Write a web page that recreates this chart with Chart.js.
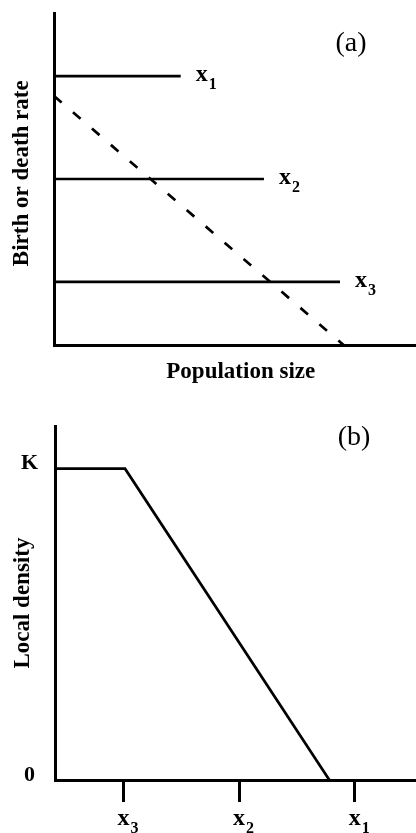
<!DOCTYPE html>
<html>
<head>
<meta charset="utf-8">
<script src="https://cdn.jsdelivr.net/npm/chart.js"></script>
<style>
  html, body { margin: 0; padding: 0; background: #fff; }
  .panel { position: relative; width: 416px; }
  #panelA { height: 396px; }
  #panelB { height: 437px; }
</style>
</head>
<body>
<div class="panel" id="panelA"><canvas id="chartA"></canvas></div>
<div class="panel" id="panelB"><canvas id="chartB"></canvas></div>
<script>
// (a) birth rate at each site (flat lines) vs population size
const siteSubs = ['1', '2', '3'];
const birthRates = [81, 50, 19];
const birthLineEnds = [35, 58, 79];
// (a) death rate, rising with population size (dashed)
const deathX = [0, 80];
const deathY = [75, 0];

// (b) local density along the sites
const siteTickX = [19, 51, 83];
const siteTickSubs = ['3', '2', '1'];
const densityX = [0, 19.4, 76];
const densityY = [88, 88, 0];
const densityTicks = [0, 88];
const densityTickLabels = ['0', 'K'];

const SERIF = "'Liberation Serif', 'Times New Roman', serif";
const BLACK = '#000';

// draws "x" with a subscript digit; align 'left' or 'center' (centre of the x)
function drawSubLabel(ctx, sub, x, y, align) {
  ctx.fillStyle = BLACK;
  ctx.textBaseline = 'alphabetic';
  ctx.textAlign = 'left';
  ctx.font = 'bold 24px ' + SERIF;
  const wx = ctx.measureText('x').width;
  const x0 = align === 'center' ? x - wx / 2 : x;
  ctx.fillText('x', x0, y);
  ctx.font = 'bold 16px ' + SERIF;
  ctx.fillText(sub, x0 + wx + 1, y + 8);
}

const panelTag = {
  id: 'panelTag',
  afterDraw(chart, args, opts) {
    const {ctx, chartArea} = chart;
    ctx.save();
    ctx.fillStyle = BLACK;
    ctx.font = '28px ' + SERIF;
    ctx.textAlign = 'center';
    ctx.textBaseline = 'middle';
    ctx.fillText(opts.text, chartArea.right - opts.dx, chartArea.top + opts.dy);
    ctx.restore();
  }
};

const lineEndLabels = {
  id: 'lineEndLabels',
  afterDatasetsDraw(chart) {
    const ctx = chart.ctx;
    ctx.save();
    siteSubs.forEach((sub, i) => {
      const pts = chart.getDatasetMeta(i).data;
      const last = pts[pts.length - 1];
      drawSubLabel(ctx, sub, last.x + 15, last.y + 5, 'left');
    });
    ctx.restore();
  }
};

const siteTickLabels = {
  id: 'siteTickLabels',
  afterDraw(chart) {
    const ctx = chart.ctx;
    const xs = chart.scales.x;
    ctx.save();
    siteTickX.forEach((v, i) => {
      drawSubLabel(ctx, siteTickSubs[i], xs.getPixelForValue(v), xs.top + 45, 'center');
    });
    ctx.restore();
  }
};

const titleFont = { family: SERIF, size: 23, weight: 'bold' };
const axisBorder = { display: true, color: BLACK, width: 3 };

// ---- panel (a)
const datasetsA = birthRates.map((r, i) => ({
  label: 'x' + siteSubs[i],
  data: [{ x: 0, y: r }, { x: birthLineEnds[i], y: r }],
  borderColor: BLACK,
  borderWidth: 2.7
}));
datasetsA.push({
  label: 'death rate',
  data: deathX.map((x, i) => ({ x: x, y: deathY[i] })),
  borderColor: BLACK,
  borderWidth: 2.7,
  borderDash: [10, 15]
});

new Chart(document.getElementById('chartA'), {
  type: 'line',
  data: { datasets: datasetsA },
  options: {
    responsive: true,
    maintainAspectRatio: false,
    animation: false,
    layout: { padding: { top: 13, right: 0, bottom: 0, left: 0 }, autoPadding: false },
    elements: { point: { radius: 0 }, line: { tension: 0 } },
    plugins: {
      legend: { display: false },
      tooltip: { enabled: false },
      panelTag: { text: '(a)', dx: 65, dy: 31 }
    },
    scales: {
      x: {
        type: 'linear', min: 0, max: 100,
        grid: { display: false, drawTicks: false },
        ticks: { display: false },
        border: axisBorder,
        // leading spaces nudge the centred title right, as in the figure
        title: { display: true, text: '  Population size', color: BLACK, font: titleFont, padding: { top: 0, bottom: 10 } },
        afterFit(s) { s.height = 51; }
      },
      y: {
        type: 'linear', min: 0, max: 100,
        grid: { display: false, drawTicks: false },
        ticks: { display: false },
        border: axisBorder,
        title: { display: true, text: '  Birth or death rate', color: BLACK, font: titleFont, padding: { top: 8, bottom: 0 } },
        afterFit(s) { s.width = 54; }
      }
    }
  },
  plugins: [panelTag, lineEndLabels]
});

// ---- panel (b)
new Chart(document.getElementById('chartB'), {
  type: 'line',
  data: {
    datasets: [{
      label: 'Local density',
      data: densityX.map((x, i) => ({ x: x, y: densityY[i] })),
      borderColor: BLACK,
      borderWidth: 2.7
    }]
  },
  options: {
    responsive: true,
    maintainAspectRatio: false,
    animation: false,
    layout: { padding: { top: 16, right: 0, bottom: 0, left: 0 }, autoPadding: false },
    elements: { point: { radius: 0 }, line: { tension: 0 } },
    plugins: {
      legend: { display: false },
      tooltip: { enabled: false },
      panelTag: { text: '(b)', dx: 62, dy: 11 }
    },
    scales: {
      x: {
        type: 'linear', min: 0, max: 100,
        afterBuildTicks(s) { s.ticks = siteTickX.map(v => ({ value: v })); },
        grid: { display: true, drawOnChartArea: false, drawTicks: true, tickLength: 22, tickWidth: 3, tickColor: BLACK, color: BLACK },
        ticks: { display: false },
        border: axisBorder,
        afterFit(s) { s.height = 53; }
      },
      y: {
        type: 'linear', min: 0, max: 100,
        afterBuildTicks(s) { s.ticks = densityTicks.map(v => ({ value: v })); },
        grid: { display: false, drawTicks: false },
        ticks: {
          autoSkip: false,
          callback: (v, i) => densityTickLabels[i],
          color: BLACK,
          font: { family: SERIF, size: 22, weight: 'bold' },
          padding: 17,
          crossAlign: 'center',
          labelOffset: -5
        },
        border: axisBorder,
        title: { display: true, text: 'Local density', color: BLACK, font: titleFont, padding: { top: 9, bottom: 0 } },
        afterFit(s) { s.width = 55; }
      }
    }
  },
  plugins: [panelTag, siteTickLabels]
});
</script>
</body>
</html>
